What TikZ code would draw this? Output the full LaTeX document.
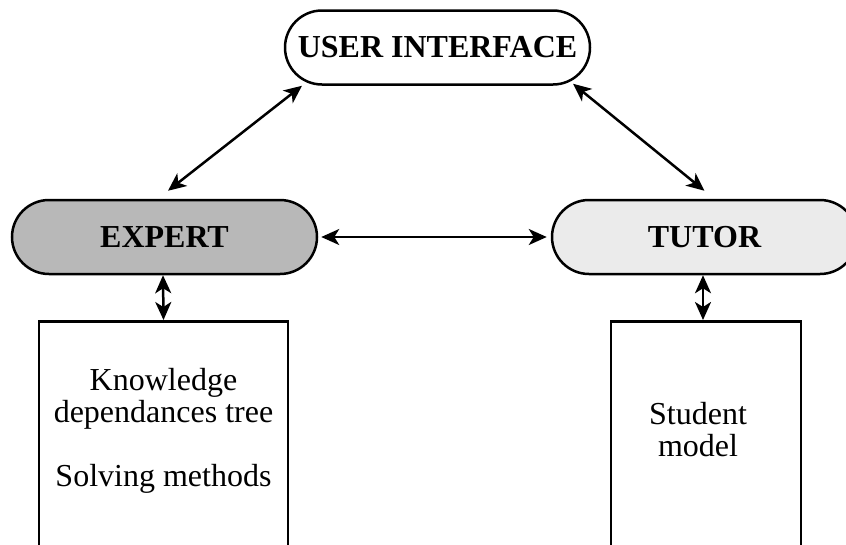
\documentclass[tikz,border=0pt]{standalone}
\usepackage{fontspec}
\setmainfont{Liberation Serif}
\usetikzlibrary{arrows.meta}
\begin{document}
\begin{tikzpicture}[x=1pt,y=-1pt,
  pill/.style={draw, line width=2.5pt, rounded corners=37pt, minimum width=305pt, minimum height=74pt, inner sep=0pt,
    font=\fontsize{32}{36}\selectfont\bfseries},
  store/.style={draw, line width=2.5pt, minimum width=249pt, minimum height=260pt, anchor=north, inner sep=0pt},
  body/.style={font=\fontsize{32}{32}\selectfont, align=center, inner sep=0pt},
  link/.style={line width=2.5pt, {Stealth[length=18pt,width=16pt,inset=5pt]}-{Stealth[length=18pt,width=16pt,inset=5pt]}}]
\useasboundingbox (0,0) rectangle (846,544);
\clip (0,0) rectangle (846,544);
\node[pill, fill=white] (ui) at (437.5,47.5) {USER INTERFACE};
\node[pill, fill=black!28] (expert) at (164.5,237) {EXPERT};
\node[pill, fill=black!8] (tutor) at (704.5,237) {TUTOR};
\node[store] (kbox) at (163.5,320) {};
\node[store, minimum width=190pt] (sbox) at (706,320) {};
\node[body] (ktext) at (163.5,431) {Knowledge\\dependances tree\\[31.5pt]Solving methods};
\node[body] (stext) at (698,430) {Student\\model};
\draw[link] ([xshift=3.5pt,yshift=8pt]expert.north) -- ([xshift=-135.5pt]ui.south);
\draw[link] ([yshift=8pt]tutor.north) -- ([xshift=135.5pt,yshift=2pt]ui.south);
\draw[link] ([xshift=3pt]expert.east) -- ([xshift=-4pt]tutor.west);
\draw[link] ([xshift=-1.5pt]expert.south) -- (kbox.north);
\draw[link] ([xshift=-1.5pt]tutor.south) -- ([xshift=-3pt]sbox.north);
\end{tikzpicture}
\end{document}
